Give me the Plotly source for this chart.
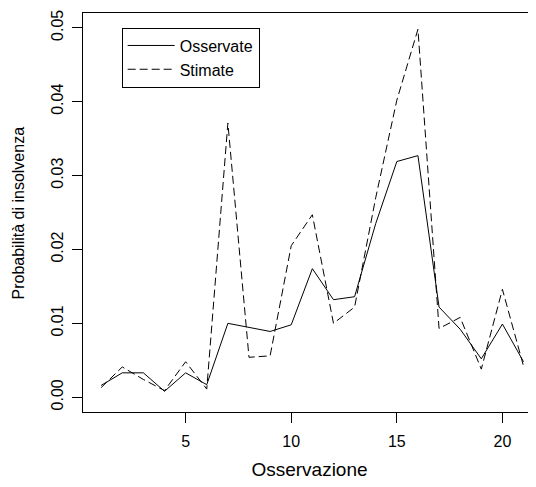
import plotly.graph_objects as go

# Data
osservazione = list(range(1, 22))
osservate = [0.0016, 0.0033, 0.0033, 0.0008, 0.0033, 0.0017, 0.0100, 0.0094, 0.0089, 0.0098,
             0.0174, 0.0132, 0.0136, 0.0235, 0.0319, 0.0327, 0.0122, 0.0092, 0.0052, 0.0099, 0.0048]
stimate = [0.0013, 0.0041, 0.0024, 0.0009, 0.0048, 0.0011, 0.0371, 0.0054, 0.0056, 0.0205,
           0.0247, 0.0100, 0.0122, 0.0270, 0.0402, 0.0498, 0.0093, 0.0108, 0.0038, 0.0146, 0.0042]
x_ticks = [5, 10, 15, 20]
y_ticks = [0.00, 0.01, 0.02, 0.03, 0.04, 0.05]

FONT = "Liberation Sans, Arial, Helvetica, sans-serif"

fig = go.Figure()
fig.add_trace(go.Scatter(x=osservazione, y=osservate, mode="lines", name="Osservate",
                         line=dict(color="black", width=1)))
fig.add_trace(go.Scatter(x=osservazione, y=stimate, mode="lines", name="Stimate",
                         line=dict(color="black", width=1, dash="8px,4px")))

# the page body adds an 8px offset, so margins are shifted by 8px
fig.update_layout(
    width=536, height=487,
    margin=dict(l=75, r=8, t=5, b=83, autoexpand=False),
    paper_bgcolor="white", plot_bgcolor="white",
    font=dict(family=FONT, size=16, color="black"),
    showlegend=True,
    legend=dict(x=0.0854, y=0.9635, xanchor="left", yanchor="top",
                bordercolor="black", borderwidth=1, bgcolor="white",
                font=dict(size=16), itemwidth=47, tracegroupgap=0),
    xaxis=dict(range=[0.14, 21.59], tickvals=x_ticks, ticks="outside", ticklen=10,
               tickcolor="black", showline=True, linecolor="black", linewidth=1,
               mirror=True, showgrid=False, zeroline=False, automargin=False,
               title=dict(text="Osservazione", standoff=13),
               ticklabelstandoff=5),
    yaxis=dict(range=[-0.0020, 0.0520], tickvals=y_ticks, tickformat=".2f",
               ticks="outside", ticklen=10, tickcolor="black", tickangle=-90,
               showline=True, linecolor="black", linewidth=1, mirror=False,
               showgrid=False, zeroline=False, automargin=False,
               ticklabelstandoff=3),
    annotations=[dict(text="Probabilità di insolvenza", textangle=-90,
                      xref="paper", yref="paper", x=-0.1413, y=0.5,
                      xanchor="center", yanchor="middle", showarrow=False,
                      font=dict(size=16))],
)

fig.write_html("out.html")
